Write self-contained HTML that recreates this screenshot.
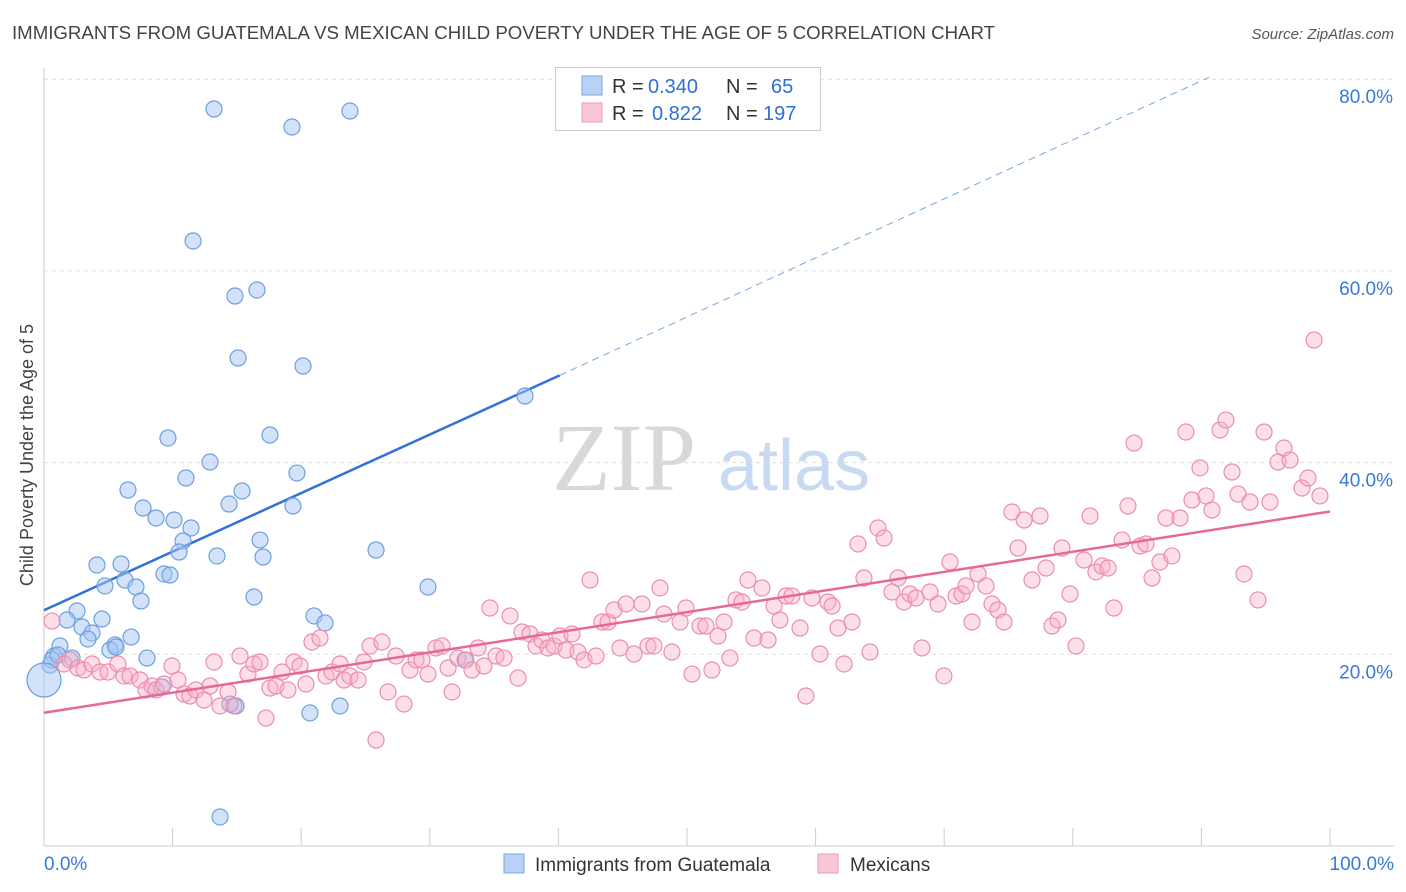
<!DOCTYPE html>
<html><head><meta charset="utf-8"><style>
body{margin:0;background:#fff;font-family:"Liberation Sans",sans-serif}
svg{display:block}
</style></head><body>
<svg id="c" width="1406" height="892" xmlns="http://www.w3.org/2000/svg">
<text x="12" y="39" font-size="18" fill="#444" textLength="983" lengthAdjust="spacingAndGlyphs">IMMIGRANTS FROM GUATEMALA VS MEXICAN CHILD POVERTY UNDER THE AGE OF 5 CORRELATION CHART</text>
<text x="1394" y="39" font-size="15" fill="#555" font-style="italic" text-anchor="end">Source: ZipAtlas.com</text>
<text x="33" y="455" font-size="18" fill="#444" text-anchor="middle" transform="rotate(-90 33 455)">Child Poverty Under the Age of 5</text>
<g>
<text x="552" y="490" font-size="96" font-family="Liberation Serif,serif" fill="#d8d8d8">ZIP</text>
<text x="718" y="490" font-size="72" fill="#c8daf2">atlas</text></g>
<g id="grid"></g><g id="axes"></g><g id="trend"></g><g id="pts"></g>
<g>
<rect x="555.5" y="67.5" width="265" height="63" fill="#fff" stroke="#ccc"/>
<rect x="582" y="76" width="20" height="19" fill="#b8d2f5" stroke="#7aa7e0"/>
<rect x="582" y="103" width="20" height="19" fill="#fac7d7" stroke="#ee9ab8"/>
<text x="612" y="93" font-size="20" fill="#333">R =</text>
<text x="648" y="93" font-size="20" fill="#2e6fd8">0.340</text>
<text x="726" y="93" font-size="20" fill="#333">N =</text>
<text x="771" y="93" font-size="20" fill="#2e6fd8">65</text>
<text x="612" y="120" font-size="20" fill="#333">R =</text>
<text x="652" y="120" font-size="20" fill="#2e6fd8">0.822</text>
<text x="726" y="120" font-size="20" fill="#333">N =</text>
<text x="763" y="120" font-size="20" fill="#2e6fd8">197</text>
</g>
<g>
<rect x="504" y="854" width="20" height="19" fill="#b8d2f5" stroke="#7aa7e0"/>
<text x="535" y="871" font-size="19" fill="#333">Immigrants from Guatemala</text>
<rect x="818" y="854" width="20" height="19" fill="#fac7d7" stroke="#ee9ab8"/>
<text x="850" y="871" font-size="19" fill="#333">Mexicans</text>
</g>
</svg>
<script>
const xTicks=[0,10,20,30,40,50,60,70,80,90,100];
const yTicks=[20,40,60,80];
const bluePx=[[214,109],[292,127],[350,111],[193,241],[235,296],[257,290],[238,358],[303,366],[525,396],[168,438],[270,435],[210,462],[186,478],[297,473],[128,490],[242,491],[229,504],[293,506],[143,508],[156,518],[174,520],[191,528],[183,541],[260,540],[376,550],[179,552],[217,556],[263,557],[97,565],[121,564],[164,574],[170,575],[125,580],[105,586],[136,587],[428,587],[141,601],[254,597],[77,611],[67,620],[102,619],[82,627],[314,616],[325,623],[92,633],[131,637],[88,639],[60,646],[115,645],[110,650],[54,656],[72,658],[147,658],[465,660],[50,665],[162,687],[236,706],[340,706],[310,713],[220,817],[52,660],[58,655],[116,647],[230,704]];
const pinkPx=[[52,621],[64,664],[70,660],[78,668],[84,670],[92,664],[100,672],[108,672],[118,664],[124,676],[130,676],[140,680],[146,690],[152,686],[156,690],[164,684],[172,666],[178,680],[184,694],[190,696],[196,690],[204,700],[210,686],[214,662],[220,706],[228,692],[234,706],[240,656],[248,674],[254,664],[260,662],[266,718],[270,688],[276,686],[282,672],[288,690],[294,662],[300,666],[306,684],[312,642],[320,638],[326,676],[332,672],[340,664],[344,680],[350,676],[358,680],[364,662],[370,646],[376,740],[382,642],[388,692],[396,656],[404,704],[410,670],[416,660],[422,660],[428,674],[436,648],[442,646],[448,668],[452,692],[458,658],[466,660],[472,670],[478,648],[484,666],[490,608],[496,656],[504,658],[510,616],[518,678],[522,632],[530,634],[536,646],[542,640],[548,648],[554,646],[560,636],[566,650],[572,634],[578,652],[584,660],[590,580],[596,656],[602,622],[608,622],[614,610],[620,648],[626,604],[634,654],[642,604],[648,646],[654,646],[660,588],[664,614],[672,652],[680,622],[686,608],[692,674],[700,626],[706,626],[712,670],[718,636],[724,622],[730,658],[736,600],[742,602],[748,580],[754,638],[762,588],[768,640],[774,606],[780,620],[786,596],[792,596],[800,628],[806,696],[812,598],[820,654],[828,602],[832,606],[838,628],[844,664],[852,622],[858,544],[864,578],[870,652],[878,528],[884,538],[892,592],[898,578],[904,602],[910,594],[916,598],[922,648],[930,592],[938,604],[944,676],[950,562],[956,596],[962,594],[966,586],[972,622],[978,574],[986,586],[992,604],[998,610],[1004,622],[1012,512],[1018,548],[1024,520],[1032,580],[1040,516],[1046,568],[1052,626],[1058,620],[1062,548],[1070,594],[1076,646],[1084,560],[1090,516],[1096,572],[1102,566],[1108,568],[1114,608],[1122,540],[1128,506],[1134,443],[1140,546],[1146,544],[1152,578],[1160,562],[1166,518],[1172,556],[1180,518],[1186,432],[1192,500],[1200,468],[1206,496],[1212,510],[1220,430],[1226,420],[1232,472],[1238,494],[1244,574],[1250,502],[1258,600],[1264,432],[1270,502],[1278,462],[1284,448],[1290,460],[1302,488],[1308,478],[1314,340],[1320,496]];
const blueX=bluePx.map(p=>+((p[0]-44)/12.86).toFixed(2));
const blueY=bluePx.map(p=>+((846-p[1])/9.585).toFixed(2));
const pinkX=pinkPx.map(p=>+((p[0]-44)/12.86).toFixed(2));
const pinkY=pinkPx.map(p=>+((846-p[1])/9.585).toFixed(2));
const blueTrend=[[0,24.6],[40.1,49.1],[90.6,80.2]];
const pinkTrend=[[0,13.9],[100,34.9]];
const X=v=>44+v*12.86, Y=v=>846-v*9.585;
const NS="http://www.w3.org/2000/svg";
function mk(t,a,p){const e=document.createElementNS(NS,t);for(const k in a)e.setAttribute(k,a[k]);document.getElementById(p).appendChild(e);return e;}
yTicks.forEach(v=>{
 const l=mk('line',{x1:44,x2:1394,y1:Y(v),y2:Y(v),stroke:'#ddd','stroke-dasharray':'4,4'},'grid');
 
 
 const t=mk('text',{x:1393,y:Y(v)+24,'font-size':19,fill:'#3a78d8','text-anchor':'end'},'grid');
 t.textContent=v.toFixed(1)+'%';
 
 
});
const ax=mk('line',{x1:44,x2:1394,y1:846,y2:846,stroke:'#ccc'},'axes');


const ay=mk('line',{x1:44,x2:44,y1:68,y2:846,stroke:'#ccc'},'axes');


xTicks.forEach(v=>{
 const l=mk('line',{x1:X(v),x2:X(v),y1:828,y2:846,stroke:'#ccc'},'axes');
 
 
});
[[0,'0.0%','start',44],[100,'100.0%','end',1394]].forEach(d=>{
 const t=mk('text',{x:d[3],y:870,'font-size':19,fill:'#3a78d8','text-anchor':d[2]},'axes');
 t.textContent=d[1];
 
 
});
const b1=mk('line',{x1:X(blueTrend[0][0]),y1:Y(blueTrend[0][1]),x2:X(blueTrend[1][0]),y2:Y(blueTrend[1][1]),stroke:'#2f72d8','stroke-width':2.5},'trend');


const b2=mk('line',{x1:X(blueTrend[1][0]),y1:Y(blueTrend[1][1]),x2:X(blueTrend[2][0]),y2:Y(blueTrend[2][1]),stroke:'#7aa7e0','stroke-width':1,'stroke-dasharray':'7,5'},'trend');


blueX.forEach((x,i)=>{
 const c=mk('circle',{cx:X(x),cy:Y(blueY[i]),r:8,fill:'rgba(165,198,242,0.5)',stroke:'#6d9fe0','stroke-width':1.2},'pts');
 
 
});
const big=mk('circle',{cx:44,cy:680,r:17,fill:'rgba(165,198,242,0.5)',stroke:'#6d9fe0','stroke-width':1.2},'pts');


pinkX.forEach((x,i)=>{
 const c=mk('circle',{cx:X(x),cy:Y(pinkY[i]),r:8,fill:'rgba(247,175,200,0.4)',stroke:'#ec8db0','stroke-width':1.2},'pts');
 
 
});
const p1=mk('line',{x1:X(pinkTrend[0][0]),y1:Y(pinkTrend[0][1]),x2:X(pinkTrend[1][0]),y2:Y(pinkTrend[1][1]),stroke:'#e8679a','stroke-width':2.5},'pts');


</script>
</body></html>
